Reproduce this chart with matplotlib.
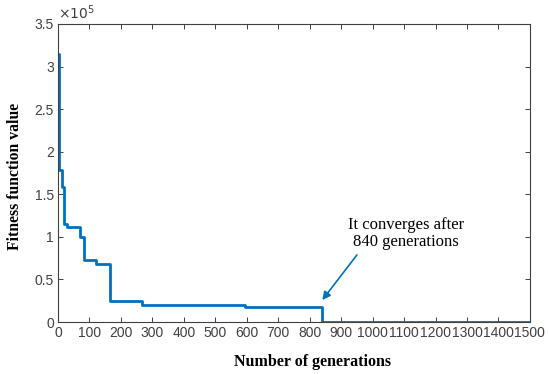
import matplotlib.pyplot as plt
from matplotlib.ticker import FuncFormatter

# step curve: generation where each level starts, fitness value
gen = [0, 2, 12, 20, 30, 70, 84, 122, 164, 268, 593, 840, 1500]
fitness = [315000, 178000, 158000, 115000, 112000, 100000, 73000, 68000,
           25000, 20000, 18000, 500, 500]

xticks = list(range(0, 1501, 100))
yticks = [0, 50000, 100000, 150000, 200000, 250000, 300000, 350000]

fig = plt.figure(figsize=(5.5, 3.74), dpi=100)
ax = fig.add_axes([0.1055, 0.139, 0.858, 0.797])

ax.step(gen, fitness, where='post', color='#0072BD', lw=2)

ax.set_xlim(0, 1500)
ax.set_ylim(0, 350000)
ax.set_xticks(xticks)
ax.set_yticks(yticks)
ax.yaxis.set_major_formatter(FuncFormatter(lambda v, p: f'{v / 1e5:g}'))

axis_col = '#404040'
for s in ax.spines.values():
    s.set_color(axis_col)
    s.set_linewidth(0.8)
ax.tick_params(direction='in', length=3.5, width=0.7, colors=axis_col,
               top=True, right=True, labelsize=10, pad=3)
for lab in ax.get_xticklabels() + ax.get_yticklabels():
    lab.set_family('Liberation Sans')

ax.text(0, 1.005, r'$\times10^{5}$', transform=ax.transAxes, fontsize=10,
        family='Liberation Sans', color=axis_col, ha='left', va='bottom')

ax.set_xlabel('Number of generations', family='Liberation Serif',
              fontweight='bold', fontsize=11.5)
ax.xaxis.set_label_coords(0.54, -0.108)
ax.set_ylabel('Fitness function value', family='Liberation Serif',
              fontweight='bold', fontsize=11.3)
ax.yaxis.set_label_coords(-0.074, 0.49)

ax.text(1105, 104000, 'It converges after\n840 generations', ha='center',
        va='center', family='Liberation Serif', fontsize=12, linespacing=1.15)
ax.annotate('', xy=(840, 25800), xytext=(950, 78700),
            arrowprops=dict(arrowstyle='-|>', color='#0072BD', lw=1.2,
                            shrinkA=0, shrinkB=0, mutation_scale=12))

fig.savefig('out.png', dpi=100)
